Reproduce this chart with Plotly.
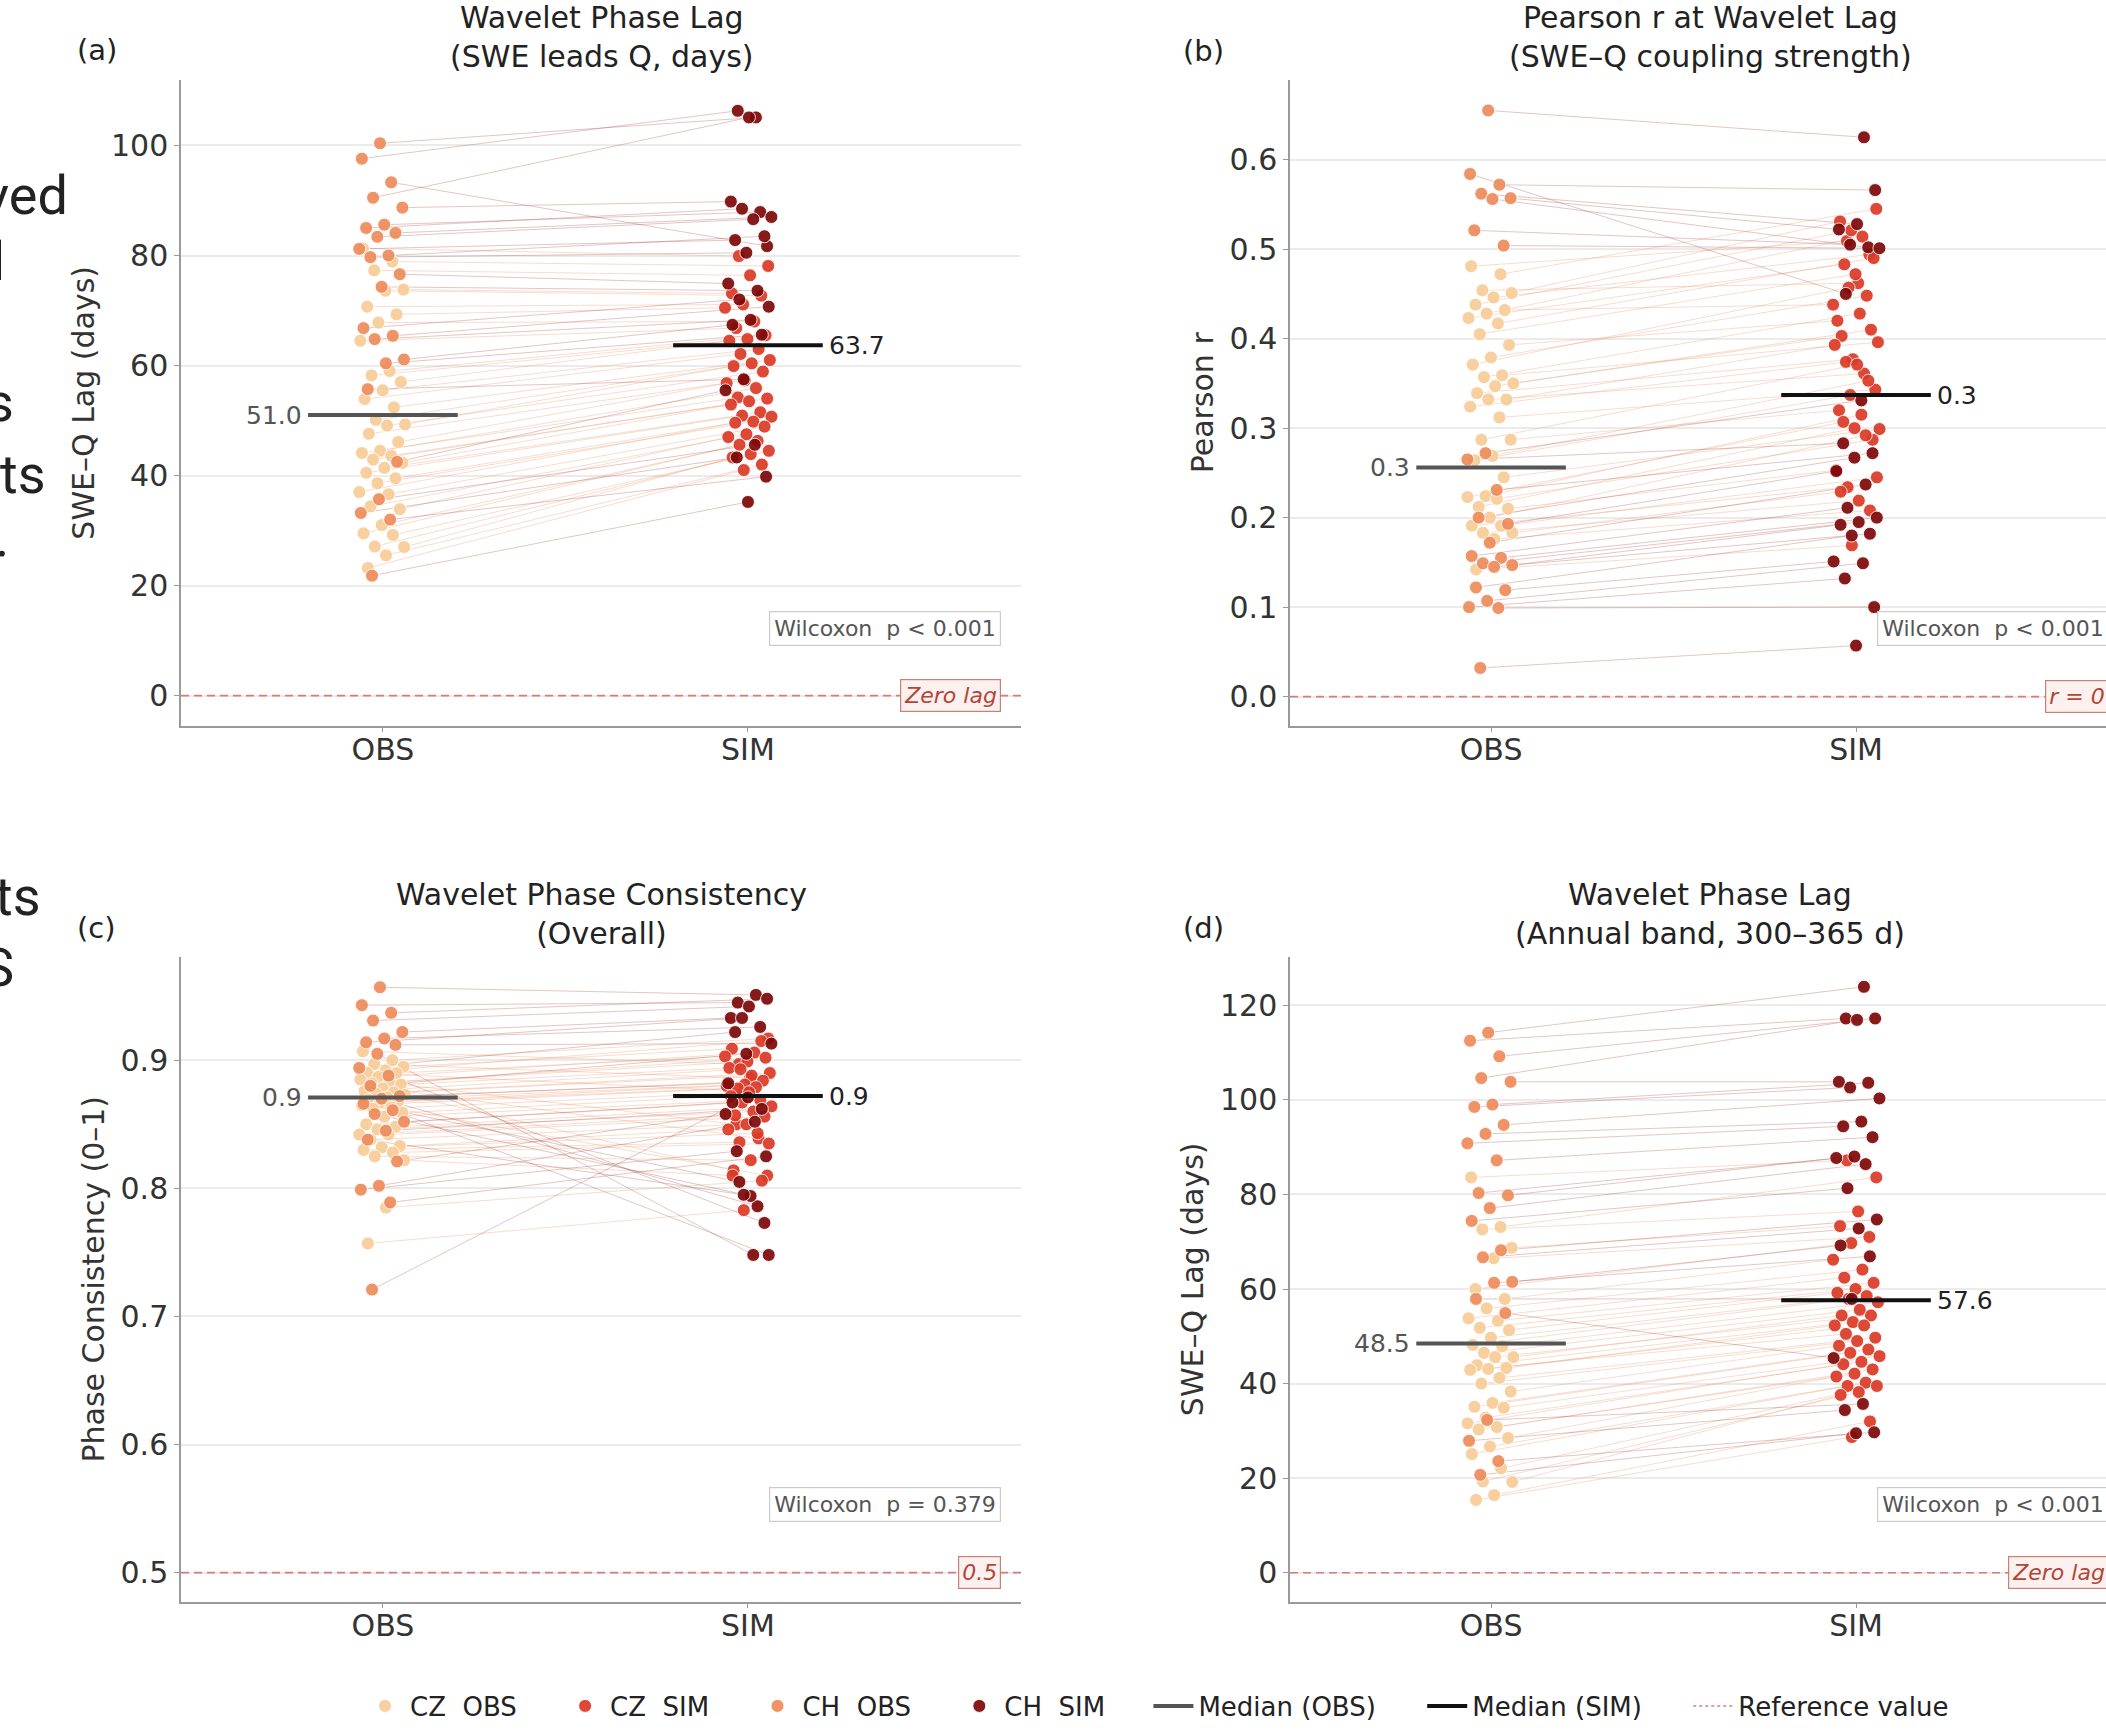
import plotly.graph_objects as go

# ---------------- data ----------------
CATEGORIES = ["OBS", "SIM"]

# (a) Wavelet phase lag, days
A_CH_OBS = [100.4, 97.6, 93.3, 90.5, 88.7, 85.6, 85.0, 84.1, 83.4, 81.2, 80.0, 79.7, 76.6,
            74.3, 66.8, 65.4, 64.8, 61.1, 60.4, 55.7, 42.5, 35.7, 33.2, 32.0, 21.8]
A_CH_SIM = [105.1, 106.3, 81.7, 105.1, 89.8, 87.9, 88.5, 87.0, 86.6, 82.8, 83.5, 80.5, 74.9,
            73.6, 72.0, 70.7, 68.3, 67.4, 65.6, 57.5, 55.5, 45.6, 43.3, 39.8, 35.2]
A_CZ_OBS = [81.3, 78.9, 77.3, 73.8, 73.6, 70.7, 69.3, 67.8, 64.5, 59.0, 58.2, 57.0, 55.5, 53.9,
            52.4, 50.1, 49.3, 49.1, 47.6, 46.1, 44.5, 44.1, 43.6, 42.9, 42.3, 41.4, 40.5, 39.5,
            38.6, 37.0, 36.6, 34.4, 33.9, 31.0, 29.5, 29.2, 27.1, 27.0, 25.5, 23.2]
A_CZ_SIM = [79.9, 78.1, 76.4, 73.1, 72.7, 71.1, 70.5, 68.0, 66.8, 65.5, 64.8, 64.5, 63.0, 62.1,
            61.0, 60.4, 59.9, 58.9, 57.3, 56.8, 55.9, 54.2, 54.0, 53.5, 52.9, 51.5, 50.9, 50.7,
            49.8, 49.6, 48.9, 47.5, 47.0, 46.3, 45.6, 44.5, 43.9, 43.3, 42.0, 41.0]

# (b) Pearson r at wavelet lag
B_CH_OBS = [0.655, 0.584, 0.572, 0.562, 0.557, 0.556, 0.521, 0.504, 0.272, 0.265, 0.231, 0.200,
            0.193, 0.172, 0.157, 0.155, 0.149, 0.147, 0.145, 0.122, 0.119, 0.107, 0.100, 0.099, 0.032]
B_CH_SIM = [0.625, 0.450, 0.566, 0.528, 0.522, 0.502, 0.505, 0.501, 0.331, 0.283, 0.272, 0.267,
            0.252, 0.237, 0.211, 0.200, 0.195, 0.192, 0.182, 0.180, 0.151, 0.149, 0.132, 0.100, 0.057]
B_CZ_OBS = [0.481, 0.472, 0.454, 0.451, 0.446, 0.438, 0.432, 0.428, 0.423, 0.417, 0.405, 0.393,
            0.379, 0.371, 0.359, 0.357, 0.350, 0.347, 0.339, 0.332, 0.332, 0.324, 0.312, 0.287,
            0.287, 0.269, 0.264, 0.245, 0.224, 0.223, 0.221, 0.212, 0.210, 0.200, 0.191, 0.191,
            0.183, 0.183, 0.176, 0.142]
B_CZ_SIM = [0.509, 0.545, 0.462, 0.531, 0.494, 0.521, 0.438, 0.514, 0.483, 0.490, 0.472, 0.420,
            0.448, 0.457, 0.396, 0.428, 0.403, 0.410, 0.377, 0.393, 0.361, 0.374, 0.343, 0.371,
            0.320, 0.353, 0.337, 0.299, 0.315, 0.307, 0.287, 0.300, 0.253, 0.292, 0.234, 0.245,
            0.219, 0.229, 0.208, 0.169]

# (c) Wavelet phase consistency
C_CH_OBS = [0.957, 0.943, 0.937, 0.931, 0.922, 0.917, 0.914, 0.912, 0.905, 0.894, 0.888, 0.880,
            0.872, 0.870, 0.866, 0.861, 0.858, 0.852, 0.845, 0.838, 0.821, 0.802, 0.799, 0.789, 0.721]
C_CH_SIM = [0.951, 0.945, 0.948, 0.942, 0.933, 0.926, 0.933, 0.913, 0.748, 0.922, 0.773, 0.905,
            0.882, 0.786, 0.805, 0.748, 0.794, 0.867, 0.862, 0.795, 0.858, 0.852, 0.829, 0.825, 0.871]
C_CZ_OBS = [0.907, 0.900, 0.897, 0.895, 0.892, 0.890, 0.890, 0.887, 0.885, 0.883, 0.882, 0.881,
            0.878, 0.876, 0.875, 0.874, 0.873, 0.871, 0.869, 0.868, 0.867, 0.865, 0.863, 0.862,
            0.859, 0.856, 0.850, 0.848, 0.846, 0.842, 0.842, 0.838, 0.833, 0.832, 0.830, 0.828,
            0.825, 0.822, 0.785, 0.757]
C_CZ_SIM = [0.897, 0.917, 0.886, 0.909, 0.915, 0.876, 0.903, 0.906, 0.850, 0.902, 0.899, 0.894,
            0.839, 0.893, 0.890, 0.888, 0.814, 0.884, 0.881, 0.880, 0.879, 0.878, 0.810, 0.875,
            0.872, 0.869, 0.867, 0.864, 0.860, 0.857, 0.856, 0.850, 0.846, 0.843, 0.836, 0.835,
            0.822, 0.810, 0.806, 0.783]

# (d) Wavelet phase lag, annual band
D_CH_OBS = [114.2, 112.5, 109.2, 104.6, 103.8, 99.0, 98.5, 94.7, 92.8, 90.8, 87.2, 80.3, 79.8,
            77.1, 74.4, 68.2, 66.7, 61.5, 61.3, 57.9, 54.9, 32.3, 27.9, 23.6, 20.7]
D_CH_SIM = [123.9, 117.2, 117.2, 116.9, 103.8, 103.6, 102.6, 100.3, 95.4, 94.4, 92.1, 88.0, 87.7,
            86.4, 81.3, 74.7, 72.8, 69.2, 66.9, 57.9, 45.4, 35.7, 34.4, 29.7, 29.5]
D_CZ_OBS = [83.6, 73.1, 72.6, 68.7, 66.5, 60.0, 57.9, 55.9, 53.8, 53.3, 51.8, 51.3, 49.7, 48.2,
            47.9, 46.5, 45.6, 45.6, 43.9, 43.3, 43.1, 42.9, 41.2, 40.0, 38.3, 35.9, 35.1, 34.9,
            32.8, 31.6, 30.8, 30.3, 28.5, 26.7, 25.1, 22.1, 19.3, 19.2, 16.4, 15.4]
D_CZ_SIM = [87.2, 83.6, 76.4, 73.3, 71.0, 69.7, 66.2, 64.1, 62.4, 61.3, 60.0, 59.2, 58.5, 57.9,
            57.2, 55.6, 54.4, 54.4, 53.0, 52.3, 52.3, 50.5, 49.7, 49.0, 48.0, 47.2, 46.5, 45.8,
            44.6, 44.1, 43.0, 42.1, 41.5, 40.2, 39.5, 39.5, 38.2, 37.6, 32.0, 28.7]

MEDIAN_OBS = [51.0, 0.256, 0.871, 48.5]
MEDIAN_SIM = [63.7, 0.337, 0.872, 57.6]
REF_VALUES = [0, 0, 0.5, 0]
REF_LABELS = ["Zero lag", "r = 0", "0.5", "Zero lag"]
WILCOXON = ["Wilcoxon\u00a0 p < 0.001", "Wilcoxon\u00a0 p < 0.001",
            "Wilcoxon\u00a0 p = 0.379", "Wilcoxon\u00a0 p < 0.001"]
TITLES = ["Wavelet Phase Lag<br>(SWE leads Q, days)",
          "Pearson r at Wavelet Lag<br>(SWE\u2013Q coupling strength)",
          "Wavelet Phase Consistency<br>(Overall)",
          "Wavelet Phase Lag<br>(Annual band, 300\u2013365 d)"]
YTITLES = ["SWE\u2013Q Lag (days)", "Pearson r", "Phase Consistency (0\u20131)", "SWE\u2013Q Lag (days)"]
PANEL_TAGS = ["(a)", "(b)", "(c)", "(d)"]
YTICKS = [[0, 20, 40, 60, 80, 100], [0, 0.1, 0.2, 0.3, 0.4, 0.5, 0.6],
          [0.5, 0.6, 0.7, 0.8, 0.9], [0, 20, 40, 60, 80, 100, 120]]
YRANGES = [[-5.45, 111.9], [-0.0324, 0.689], [0.4774, 0.9806], [-6.1, 130.2]]
TICKFMT = ["d", ".1f", ".1f", "d"]

PANELS = [
    (A_CZ_OBS, A_CZ_SIM, A_CH_OBS, A_CH_SIM),
    (B_CZ_OBS, B_CZ_SIM, B_CH_OBS, B_CH_SIM),
    (C_CZ_OBS, C_CZ_SIM, C_CH_OBS, C_CH_SIM),
    (D_CZ_OBS, D_CZ_SIM, D_CH_OBS, D_CH_SIM),
]

SLIDE_TEXT = ["ved", "l", "s", "ts", ".", "ts", "S"]

# ---------------- styles ----------------
W, H = 2106, 1733
FONT = "DejaVu Sans"
C_CZ_OBS_COL = "#f8cd97"
C_CZ_SIM_COL = "#db3a26"
C_CH_OBS_COL = "#ee8b5a"
C_CH_SIM_COL = "#7d0808"
LINE_CZ = "rgba(232,140,90,0.30)"
LINE_CH = "rgba(150,45,35,0.27)"
REF_COL = "rgba(205,100,90,0.80)"

XDOM = [[181 / W, 1021 / W], [1290 / W, 1.0], [181 / W, 1021 / W], [1290 / W, 1.0]]
YDOM_TOP = [1 - 725.6 / H, 1 - 80 / H]
YDOM_BOT = [1 - 1601.6 / H, 1 - 957 / H]
YDOM = [YDOM_TOP, YDOM_TOP, YDOM_BOT, YDOM_BOT]
XRANGES = [[-0.553, 1.748], [-0.551, 1.685], [-0.553, 1.748], [-0.551, 1.685]]
TITLE_Y = [1 - 37.5 / H, 1 - 37.5 / H, 1 - 913.5 / H, 1 - 913.5 / H]
TAG_X = [75 / W, 1181 / W, 75 / W, 1181 / W]
TAG_Y = [1 - 50 / H, 1 - 51 / H, 1 - 928 / H, 1 - 928 / H]

JIT = 0.065
HALF = 0.205
BOX_X = 1.692  # right edge of the text boxes, in category units
PAD_MARK = "\u00a0" * 4 + "\u2009"
PAD_LINE = "\u00a0" * 5


def jitter(n, seed):
    return [JIT * (2 * (((k + seed) * 0.6180339887) % 1.0) - 1) for k in range(n)]


def to_paper_x(p, v):
    d0, d1 = XDOM[p]
    r0, r1 = XRANGES[p]
    return d0 + (v - r0) / (r1 - r0) * (d1 - d0)


fig = go.Figure()
annotations = []
shapes = []

for p, (cz_obs, cz_sim, ch_obs, ch_sim) in enumerate(PANELS):
    sfx = "" if p == 0 else str(p + 1)
    xa, ya = "x" + sfx, "y" + sfx
    first = p == 0

    groups = []
    for name, obs, sim, seed, lcol in (("CZ", cz_obs, cz_sim, 0.13, LINE_CZ),
                                       ("CH", ch_obs, ch_sim, 0.71, LINE_CH)):
        jo = jitter(len(obs), seed)
        js = jitter(len(sim), seed + 0.37)
        xo = [0 + j for j in jo]
        xs = [1 + j for j in js]
        groups.append((name, obs, sim, xo, xs))
        lx, ly = [], []
        for a, b, va, vb in zip(xo, xs, obs, sim):
            lx += [a, b, None]
            ly += [va, vb, None]
        fig.add_trace(go.Scatter(x=lx, y=ly, mode="lines", xaxis=xa, yaxis=ya,
                                 line=dict(color=lcol, width=1), hoverinfo="skip",
                                 showlegend=False))

    (n1, o1, s1, xo1, xs1), (n2, o2, s2, xo2, xs2) = groups
    for label, xx, yy, col in (("CZ\u00a0\u00a0OBS", xo1, o1, C_CZ_OBS_COL),
                               ("CZ\u00a0\u00a0SIM", xs1, s1, C_CZ_SIM_COL),
                               ("CH\u00a0\u00a0OBS", xo2, o2, C_CH_OBS_COL),
                               ("CH\u00a0\u00a0SIM", xs2, s2, C_CH_SIM_COL)):
        fig.add_trace(go.Scatter(x=xx, y=yy, mode="markers", xaxis=xa, yaxis=ya,
                                 name=label + PAD_MARK, showlegend=first,
                                 marker=dict(size=13, color=col, opacity=0.92,
                                             line=dict(color="white", width=0.9))))

    mo, ms = MEDIAN_OBS[p], MEDIAN_SIM[p]
    fig.add_trace(go.Scatter(x=[0 - HALF, 0 + HALF], y=[mo, mo], mode="lines",
                             xaxis=xa, yaxis=ya, name="Median (OBS)" + PAD_LINE,
                             showlegend=first, line=dict(color="#555555", width=4)))
    fig.add_trace(go.Scatter(x=[1 - HALF, 1 + HALF], y=[ms, ms], mode="lines",
                             xaxis=xa, yaxis=ya, name="Median (SIM)" + PAD_LINE,
                             showlegend=first, line=dict(color="#111111", width=4)))
    if first:
        fig.add_trace(go.Scatter(x=[None], y=[None], mode="lines", xaxis=xa, yaxis=ya,
                                 name="Reference value", showlegend=True,
                                 line=dict(color=REF_COL, width=1.5, dash="3px,3px")))

    annotations.append(dict(x=0 - HALF - 0.012, y=mo, xref=xa, yref=ya, text=f"{mo:.1f}",
                            showarrow=False, xanchor="right", yanchor="middle",
                            font=dict(size=25, color="#555555", family=FONT)))
    annotations.append(dict(x=1 + HALF + 0.012, y=ms, xref=xa, yref=ya, text=f"{ms:.1f}",
                            showarrow=False, xanchor="left", yanchor="middle",
                            font=dict(size=25, color="#222222", family=FONT)))

    shapes.append(dict(type="line", xref=xa + " domain", yref=ya, x0=0, x1=1,
                       y0=REF_VALUES[p], y1=REF_VALUES[p],
                       line=dict(color=REF_COL, width=1.6, dash="8px,5px"), layer="above"))
    bx = to_paper_x(p, BOX_X)
    annotations.append(dict(x=bx, y=REF_VALUES[p], xref="paper", yref=ya,
                            text="<i>" + REF_LABELS[p] + "</i>", showarrow=False,
                            xanchor="right", yanchor="middle",
                            font=dict(size=22, color="#b34538", family=FONT),
                            bgcolor="#fdf1ef", bordercolor="#c98077", borderwidth=1.2,
                            borderpad=3))
    annotations.append(dict(x=bx, y=0.15, xref="paper", yref=ya + " domain",
                            text=WILCOXON[p], showarrow=False, xanchor="right",
                            yanchor="middle", font=dict(size=22, color="#555555", family=FONT),
                            bgcolor="white", bordercolor="#cccccc", borderwidth=1.2,
                            borderpad=4))
    annotations.append(dict(x=to_paper_x(p, 0.6), y=TITLE_Y[p], xref="paper", yref="paper",
                            text=TITLES[p], showarrow=False, xanchor="center",
                            yanchor="middle", font=dict(size=30, color="#222222", family=FONT)))
    annotations.append(dict(x=TAG_X[p], y=TAG_Y[p], xref="paper", yref="paper",
                            text=PANEL_TAGS[p], showarrow=False, xanchor="left",
                            yanchor="middle", font=dict(size=29, color="#222222", family=FONT)))

    axis_common = dict(showline=True, linecolor="#9a9a9a", linewidth=1.5, ticks="outside",
                       ticklen=5, tickwidth=1.2, tickcolor="#9a9a9a", zeroline=False,
                       tickfont=dict(size=30, color="#333333", family=FONT))
    fig.update_layout(**{
        "xaxis" + sfx: dict(domain=XDOM[p], range=XRANGES[p], tickvals=[0, 1],
                            ticktext=CATEGORIES, showgrid=False, anchor=ya,
                            ticklabelstandoff=-8, **axis_common),
        "yaxis" + sfx: dict(domain=YDOM[p], range=YRANGES[p], tickvals=YTICKS[p],
                            tickformat=TICKFMT[p], showgrid=True, gridcolor="#ebebeb",
                            gridwidth=1.5, anchor=xa,
                            title=dict(text=YTITLES[p], standoff=7,
                                       font=dict(size=30, color="#333333", family=FONT)),
                            **axis_common),
    })

SLIDE_POS = [(70, 195), (7, 262), (16, 403), (48, 474), (11, 537), (43, 897), (16, 967)]
for t, (px, py) in zip(SLIDE_TEXT, SLIDE_POS):
    annotations.append(dict(x=px / W, y=1 - py / H, xref="paper", yref="paper", text=t,
                            showarrow=False, xanchor="right", yanchor="middle",
                            font=dict(size=54, color="#222222", family="Roboto")))

fig.update_layout(
    width=W, height=H, margin=dict(l=0, r=0, t=0, b=0),
    paper_bgcolor="white", plot_bgcolor="white",
    font=dict(family=FONT, color="#222222"),
    annotations=annotations, shapes=shapes,
    legend=dict(orientation="h", x=360 / W, y=1 - 1706 / H, xanchor="left", yanchor="middle",
                font=dict(size=26, color="#222222", family=FONT), bgcolor="rgba(0,0,0,0)",
                itemwidth=40),
)

fig.write_html("out.html", config={"displayModeBar": False},
               post_script="document.body.style.margin='0';document.body.style.overflow='hidden';")
